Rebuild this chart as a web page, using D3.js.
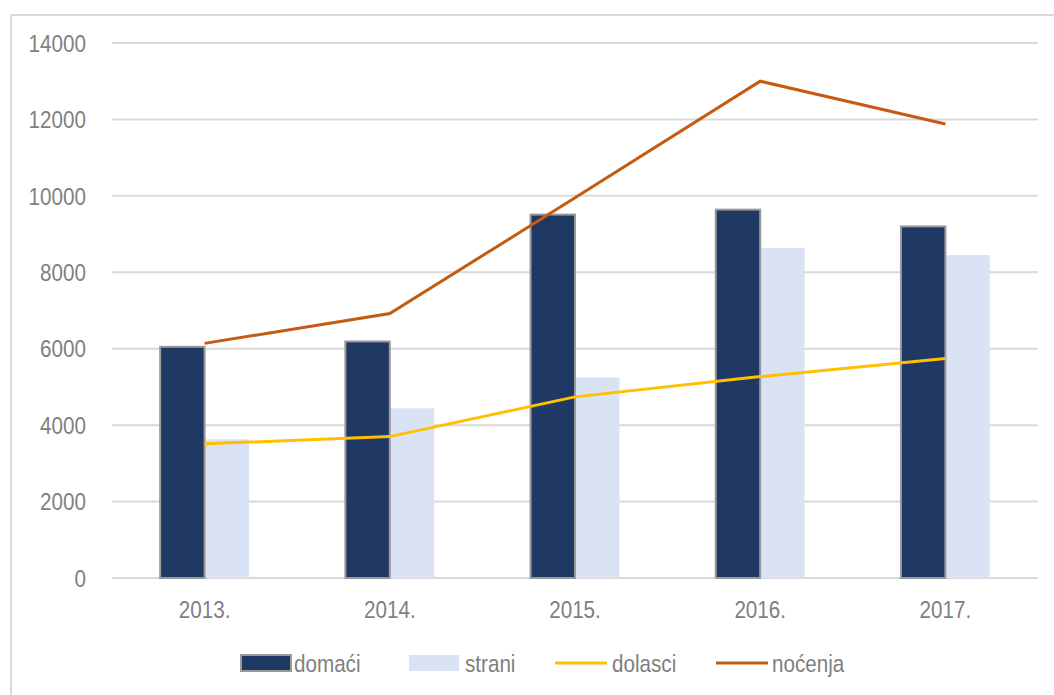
<!DOCTYPE html>
<html>
<head>
<meta charset="utf-8">
<script src="https://cdn.jsdelivr.net/npm/d3@7"></script>
<style>
  body { margin: 0; background: #fff; }
  text { font-family: "Liberation Sans", Arial, sans-serif; fill: #7f7f7f; font-size: 24px; }
</style>
</head>
<body>
<div id="chart"></div>
<script>
// data
var years = ["2013.", "2014.", "2015.", "2016.", "2017."]
var domaci = [6050, 6190, 9510, 9640, 9200]
var strani = [3630, 4440, 5250, 8640, 8450]
var dolasci = [3510, 3700, 4740, 5270, 5745]
var nocenja = [6140, 6920, 9950, 13000, 11880]
var yTicks = [0, 2000, 4000, 6000, 8000, 10000, 12000, 14000]

var width = 1054,
    height = 695

// plot area edges
var plotLeft = 112, plotRight = 1038, plotTop = 43, plotBottom = 578

// the original font is a narrow one, squeeze the text a bit
var squeeze = 0.86
function place(px, py) {
  return "translate(" + px + "," + py + ") scale(" + squeeze + ",1)"
}

var svg = d3.select("#chart")
  .append("svg")
    .attr("width", width)
    .attr("height", height)

// outer frame of the chart area
svg.append("path")
  .attr("d", "M11,700 L11,15 L1060,15")
  .attr("fill", "none")
  .attr("stroke", "#d9d9d9")
  .attr("stroke-width", 2)

var x = d3.scaleBand()
  .domain(years)
  .range([plotLeft, plotRight])
  .paddingInner(0.52)
  .paddingOuter(0.26)

var x1 = d3.scaleBand()
  .domain(["domaći", "strani"])
  .range([0, x.bandwidth()])

var y = d3.scaleLinear()
  .domain([0, 14000])
  .range([plotBottom, plotTop])

// gridlines
svg.append("g")
  .selectAll("line")
  .data(yTicks)
  .join("line")
    .attr("x1", plotLeft)
    .attr("x2", plotRight)
    .attr("y1", d => y(d))
    .attr("y2", d => y(d))
    .attr("stroke", "#d9d9d9")
    .attr("stroke-width", 2)

// y labels
svg.append("g")
  .selectAll("text")
  .data(yTicks)
  .join("text")
    .attr("transform", d => place(86, y(d)))
    .attr("dy", "0.36em")
    .attr("text-anchor", "end")
    .text(d => d)

// x labels
svg.append("g")
  .selectAll("text")
  .data(years)
  .join("text")
    .attr("transform", d => place(x(d) + x.bandwidth() / 2, 609))
    .attr("dy", "0.36em")
    .attr("text-anchor", "middle")
    .text(d => d)

// bars
svg.append("g")
  .selectAll("rect")
  .data(years.map((d, i) => ({year: d, value: strani[i]})))
  .join("rect")
    .attr("x", d => x(d.year) + x1("strani"))
    .attr("y", d => y(d.value))
    .attr("width", x1.bandwidth())
    .attr("height", d => plotBottom - y(d.value))
    .attr("fill", "#dae3f3")

svg.append("g")
  .selectAll("rect")
  .data(years.map((d, i) => ({year: d, value: domaci[i]})))
  .join("rect")
    .attr("x", d => x(d.year) + x1("domaći"))
    .attr("y", d => y(d.value))
    .attr("width", x1.bandwidth())
    .attr("height", d => plotBottom - y(d.value))
    .attr("fill", "#203864")
    .attr("stroke", "#9a9a9a")
    .attr("stroke-width", 2)

// lines
var line = d3.line()
  .x((d, i) => x(years[i]) + x.bandwidth() / 2)
  .y(d => y(d))

svg.append("path")
  .datum(dolasci)
  .attr("d", line)
  .attr("fill", "none")
  .attr("stroke", "#ffc000")
  .attr("stroke-width", 3)

svg.append("path")
  .datum(nocenja)
  .attr("d", line)
  .attr("fill", "none")
  .attr("stroke", "#c55a11")
  .attr("stroke-width", 3)

// legend
var legend = [
  {name: "domaći", type: "bar", color: "#203864", stroke: "#9a9a9a", x: 241, tx: 294},
  {name: "strani", type: "bar", color: "#dae3f3", stroke: null, x: 409, tx: 465},
  {name: "dolasci", type: "line", color: "#ffc000", x: 555, tx: 612},
  {name: "noćenja", type: "line", color: "#c55a11", x: 716, tx: 772}
]
var ly = 663

legend.forEach(function(l) {
  if (l.type == "bar") {
    svg.append("rect")
      .attr("x", l.x)
      .attr("y", ly - 8)
      .attr("width", 50)
      .attr("height", 16)
      .attr("fill", l.color)
      .attr("stroke", l.stroke)
      .attr("stroke-width", l.stroke ? 2 : 0)
  } else {
    svg.append("line")
      .attr("x1", l.x)
      .attr("x2", l.x + 52)
      .attr("y1", ly)
      .attr("y2", ly)
      .attr("stroke", l.color)
      .attr("stroke-width", 3)
  }
  svg.append("text")
    .attr("transform", place(l.tx, ly))
    .attr("dy", "0.36em")
    .text(l.name)
})
</script>
</body>
</html>
